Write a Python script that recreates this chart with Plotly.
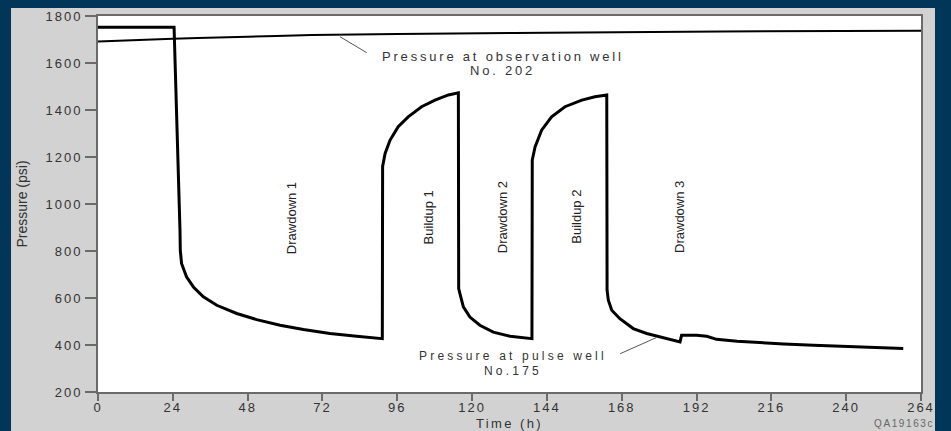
import plotly.graph_objects as go

# ---------------- data ----------------
pulse_time = [0, 24.4, 26.3, 26.4, 26.8, 28.4, 30.6, 33.8, 38.1, 44.5, 50.9, 58.4, 65.9, 74.4, 83, 91.2,
              91.3, 91.5, 92.1, 93.7, 96.3, 99.5, 103.8, 108.1, 112.4, 115.6,
              115.7, 116.1, 117.2, 119.3, 122.5, 126.8, 132.2, 139.2,
              139.3, 140.2, 142.3, 145.5, 149.8, 155.2, 159.4, 163.2,
              163.3, 163.7, 164.8, 167.4, 171.7, 176, 181.4, 186.7,
              187.2, 192, 195.3, 198.4, 205, 213.4, 220, 229.5, 240, 250, 258.3]
pulse_psi = [1752, 1752, 889, 803, 747, 690, 647, 605, 569, 534, 508, 484, 466, 449, 437, 427,
             1160, 1175, 1215, 1272, 1329, 1371, 1414, 1442, 1464, 1473,
             640, 619, 562, 519, 484, 455, 437, 427,
             1187, 1243, 1314, 1371, 1414, 1442, 1456, 1464,
             633, 591, 548, 512, 470, 449, 432, 413,
             441, 441, 437, 424, 416, 409, 404, 399, 393, 389, 385]

obs_time = [0, 24, 48, 68.5, 96, 144, 200, 264]
obs_psi = [1691, 1703, 1712, 1719, 1723, 1729, 1734, 1737]

x_tick_vals = [0, 24, 48, 72, 96, 120, 144, 168, 192, 216, 240, 264]
x_tick_labels = ["0", "24", "48", "72", "96", "120", "144", "168", "192", "216", "240", "264"]
y_tick_vals = [200, 400, 600, 800, 1000, 1200, 1400, 1600, 1800]
y_tick_labels = ["200", "400", "600", "800", "1000", "1200", "1400", "1600", "1800"]

phase_labels = ["Drawdown 1", "Buildup 1", "Drawdown 2", "Buildup 2", "Drawdown 3"]
phase_time = [62.1, 106, 130, 153.6, 186.7]
phase_psi = [938, 945, 945, 945, 945]

FONT = "Liberation Sans, Arial, sans-serif"
NAVY = "#023659"
PANEL = "#d2d2d2"
AXIS = "#6a6a6a"
TXT = "#333333"


def spaced(text, px):
    return f'<span style="letter-spacing:{px}px">{text}</span>'


fig = go.Figure()

fig.add_trace(go.Scatter(x=obs_time, y=obs_psi, mode="lines",
                         line=dict(color="black", width=2), line_shape="spline",
                         name="Pressure at observation well No. 202", showlegend=False))
fig.add_trace(go.Scatter(x=pulse_time, y=pulse_psi, mode="lines",
                         line=dict(color="black", width=3),
                         name="Pressure at pulse well No.175", showlegend=False))

# gray panel and white plot area
fig.add_shape(type="rect", xref="paper", yref="paper", x0=-0.1057, x1=1.0170,
              y0=-0.12, y1=1.0213, fillcolor=PANEL, line=dict(width=0), layer="below")
fig.add_shape(type="rect", xref="paper", yref="paper", x0=0, x1=1, y0=0, y1=1,
              fillcolor="white", line=dict(width=0), layer="below")

# leader lines
fig.add_shape(type="line", x0=77.6, y0=1712, x1=86.2, y1=1644,
              line=dict(color="#555555", width=1))
fig.add_shape(type="line", x0=167.5, y0=363, x1=179.2, y1=432,
              line=dict(color="#555555", width=1))

# text annotations
ann_font = dict(family=FONT, size=13, color=TXT)
ann_font2 = dict(family=FONT, size=12, color=TXT)
fig.add_annotation(x=129.9, y=1629, text=spaced("Pressure at observation well", 2.8),
                   showarrow=False, font=ann_font)
fig.add_annotation(x=129.9, y=1568, text=spaced("No. 202", 2.8),
                   showarrow=False, font=ann_font)
fig.add_annotation(x=133.1, y=354, text=spaced("Pressure at pulse well", 3.2),
                   showarrow=False, font=ann_font2)
fig.add_annotation(x=133.1, y=290, text=spaced("No.175", 3.2),
                   showarrow=False, font=ann_font2)

for lab, t, p in zip(phase_labels, phase_time, phase_psi):
    fig.add_annotation(x=t, y=p, text=lab, textangle=-90, showarrow=False,
                       font=dict(family=FONT, size=13, color="#222222"))

fig.add_annotation(xref="paper", yref="paper", x=1.0180, y=-0.085,
                   xanchor="right", yanchor="middle",
                   text=spaced("QA19163c", 1.6), showarrow=False,
                   font=dict(family=FONT, size=10, color="#666666"))

fig.update_xaxes(range=[0, 264], tickmode="array", tickvals=x_tick_vals,
                 ticktext=[spaced(t, 2) for t in x_tick_labels],
                 ticks="outside", ticklen=7, tickwidth=1.5, tickcolor=AXIS,
                 ticklabelstandoff=-5,
                 showline=True, linecolor=AXIS, linewidth=2, mirror=True,
                 showgrid=False, zeroline=False,
                 tickfont=dict(family=FONT, size=13, color=TXT),
                 title=dict(text=spaced("Time (h)", 2.4), standoff=8,
                            font=dict(family=FONT, size=13, color=TXT)),
                 automargin=False)
fig.update_yaxes(range=[200, 1800], tickmode="array", tickvals=y_tick_vals,
                 ticktext=[spaced(t, 2) for t in y_tick_labels],
                 ticks="outside", ticklen=11, tickwidth=1.5, tickcolor=AXIS,
                 showline=True, linecolor=AXIS, linewidth=2, mirror=True,
                 showgrid=False, zeroline=False,
                 tickfont=dict(family=FONT, size=13, color=TXT),
                 title=dict(text="Pressure (psi)", standoff=15,
                            font=dict(family=FONT, size=14, color=TXT)),
                 automargin=False)

fig.update_layout(width=951, height=431,
                  margin=dict(l=98, r=30, t=16, b=39, pad=0),
                  paper_bgcolor=NAVY, plot_bgcolor="white",
                  showlegend=False)

fig.write_html("out.html")
